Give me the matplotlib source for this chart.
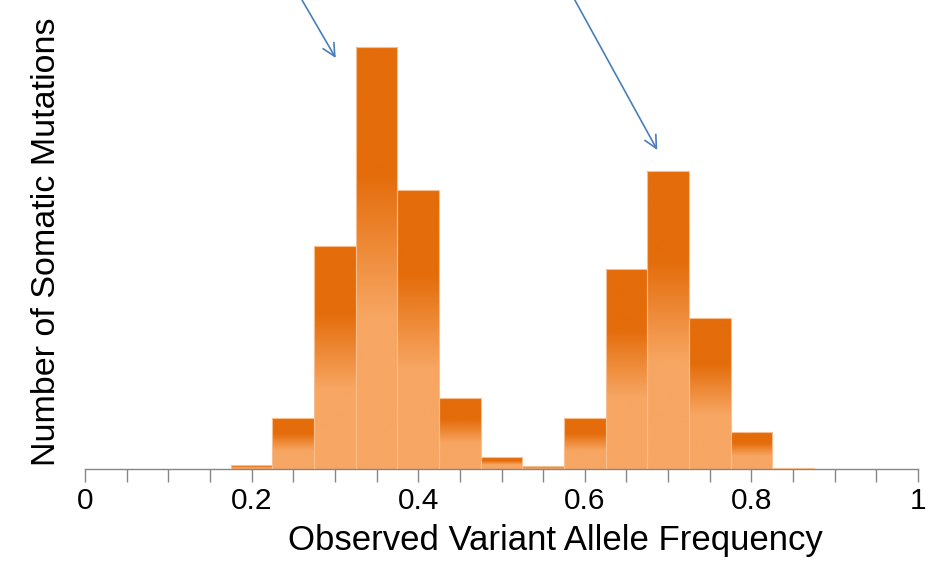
import matplotlib
matplotlib.use("Agg")
import matplotlib.pyplot as plt
import numpy as np
from matplotlib.colors import LinearSegmentedColormap

# histogram of observed VAF, bin centres and counts
bin_centers = [0.20, 0.25, 0.30, 0.35, 0.40, 0.45, 0.50, 0.55,
               0.60, 0.65, 0.70, 0.75, 0.80, 0.85]
counts = [4, 51, 223, 422, 279, 71, 12, 3, 51, 200, 298, 151, 37, 1]
bin_width = 0.05

tick_labels = ["0", "0.2", "0.4", "0.6", "0.8", "1"]
xlabel = "Observed Variant Allele Frequency"
ylabel = "Number of Somatic Mutations"

# arrows: (start x, start y, tip x, tip y) in data units
arrows = [(0.2605, 469, 0.301, 411), (0.588, 469, 0.687, 319)]

dark = "#E46C0A"
light = "#F7A663"

plt.rcParams["font.family"] = ["Liberation Sans", "DejaVu Sans"]

fig = plt.figure(figsize=(9.32, 5.61), dpi=100)
ax = fig.add_axes([85 / 932, (561 - 469) / 561, 833 / 932, 469 / 561])

# gradient: light at bottom, transition over 36%..70% of height, dark on top
cmap = LinearSegmentedColormap.from_list(
    "bar", [(0, light), (0.36, light), (0.70, dark), (1, dark)])
grad = np.linspace(0, 1, 256).reshape(-1, 1)

for c, h in zip(bin_centers, counts):
    x0, x1 = c - bin_width / 2, c + bin_width / 2
    ax.imshow(grad, extent=[x0, x1, 0, h], origin="lower", aspect="auto",
              cmap=cmap, interpolation="bilinear", zorder=2)
ax.bar(bin_centers, counts, width=bin_width, facecolor="none",
       edgecolor="#F9BE8E", linewidth=0.8, zorder=3)

for sx, sy, tx, ty in arrows:
    ax.annotate("", xy=(tx, ty), xytext=(sx, sy),
                arrowprops=dict(arrowstyle="->,head_length=0.9,head_width=0.45",
                                color="#4A7EBB", lw=1.2, shrinkA=0, shrinkB=0),
                annotation_clip=False, zorder=4)

ax.set_xlim(0, 1)
ax.set_ylim(0, 469)
ax.set_xticks(np.arange(0, 1.0001, 0.05), minor=False)
ax.set_xticklabels([tick_labels[i // 4] if i % 4 == 0 else "" for i in range(21)])
ax.tick_params(axis="x", direction="out", length=9, width=1, color="#868686",
               labelsize=21.5, pad=4)
ax.set_yticks([])
for s in ["left", "top", "right"]:
    ax.spines[s].set_visible(False)
ax.spines["bottom"].set_color("#868686")
ax.spines["bottom"].set_linewidth(1)

ax.set_xlabel(xlabel, fontsize=25)
ax.xaxis.set_label_coords(0.565, -0.118)
ax.set_ylabel(ylabel, fontsize=24.5)
ax.yaxis.set_label_coords(-0.028, 0.484)

fig.savefig("out.png", dpi=100)
